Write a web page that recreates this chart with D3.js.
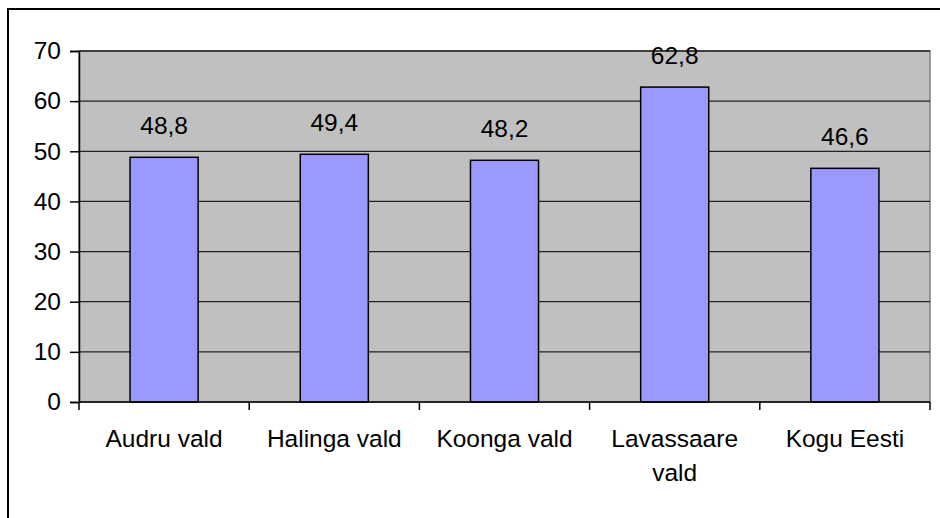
<!DOCTYPE html>
<html>
<head>
<meta charset="utf-8">
<script src="https://cdn.jsdelivr.net/npm/d3@7"></script>
<style>
  html, body { margin: 0; padding: 0; background: #fff; }
  svg { display: block; }
  text { font-family: "Liberation Sans", Arial, sans-serif; fill: #000; }
</style>
</head>
<body>
<svg id="chart" width="940" height="518"></svg>
<script>
const categories = [["Audru vald"], ["Halinga vald"], ["Koonga vald"], ["Lavassaare", "vald"], ["Kogu Eesti"]];
const values = [48.8, 49.4, 48.2, 62.8, 46.6];
const valueLabels = ["48,8", "49,4", "48,2", "62,8", "46,6"];
const yTicks = [0, 10, 20, 30, 40, 50, 60, 70];

const svg = d3.select("#chart");
const plot = { left: 79, right: 930, top: 51, bottom: 402 };
const FS = 24.5;

// outer border (only top/left visible)
svg.append("rect")
  .attr("x", 8).attr("y", 9).attr("width", 1200).attr("height", 1200)
  .attr("fill", "#fff").attr("stroke", "#000").attr("stroke-width", 2);

const keys = categories.map((c, i) => i);
const x = d3.scaleBand().domain(keys).range([plot.left, plot.right]).padding(0);
const y = d3.scaleLinear().domain([0, 70]).range([plot.bottom, plot.top]);

// plot area
svg.append("rect")
  .attr("x", plot.left).attr("y", plot.top)
  .attr("width", plot.right - plot.left).attr("height", plot.bottom - plot.top)
  .attr("fill", "#C0C0C0").attr("stroke", "#808080").attr("stroke-width", 1.5);

// gridlines
svg.append("g").selectAll("line").data(yTicks.filter(t => t > 0)).join("line")
  .attr("x1", plot.left).attr("x2", plot.right)
  .attr("y1", d => y(d)).attr("y2", d => y(d))
  .attr("stroke", "#222").attr("stroke-width", 1.3);

// bars
const barW = x.bandwidth() * 0.4;
svg.append("g").selectAll("rect").data(values).join("rect")
  .attr("x", (d, i) => x(i) + x.bandwidth() / 2 - barW / 2)
  .attr("y", d => y(d))
  .attr("width", barW)
  .attr("height", d => y(0) - y(d))
  .attr("fill", "#9999FF").attr("stroke", "#000").attr("stroke-width", 1.5);

// value labels
svg.append("g").selectAll("text").data(values).join("text")
  .attr("x", (d, i) => x(i) + x.bandwidth() / 2)
  .attr("y", d => y(d) - 23)
  .attr("text-anchor", "middle")
  .attr("font-size", FS)
  .text((d, i) => valueLabels[i]);

// y axis
const yAxis = d3.axisLeft(y).tickValues(yTicks).tickSize(9).tickPadding(9).tickFormat(d3.format("d"));
const gy = svg.append("g").attr("transform", `translate(${plot.left},0)`).call(yAxis);
gy.select(".domain").attr("stroke", "#000").attr("stroke-width", 1.5);
gy.selectAll(".tick line").attr("stroke", "#000").attr("stroke-width", 1.5);
gy.selectAll(".tick text").attr("font-size", FS).attr("font-family", "Liberation Sans, Arial, sans-serif").attr("fill", "#000");

// x axis baseline + boundary ticks
svg.append("line")
  .attr("x1", plot.left).attr("x2", plot.right)
  .attr("y1", y(0)).attr("y2", y(0))
  .attr("stroke", "#000").attr("stroke-width", 1.5);
const bounds = keys.map(k => x(k)).concat([x(keys[keys.length - 1]) + x.bandwidth()]);
svg.append("g").selectAll("line").data(bounds).join("line")
  .attr("x1", d => d).attr("x2", d => d)
  .attr("y1", y(0)).attr("y2", y(0) + 8)
  .attr("stroke", "#000").attr("stroke-width", 1.5);

// category labels
const cl = svg.append("g").selectAll("text").data(categories).join("text")
  .attr("x", (d, i) => x(i) + x.bandwidth() / 2)
  .attr("y", 447)
  .attr("text-anchor", "middle")
  .attr("font-size", FS);
cl.selectAll("tspan").data(d => d).join("tspan")
  .attr("x", function () { return this.parentNode.getAttribute("x"); })
  .attr("dy", (d, j) => j === 0 ? 0 : 34)
  .text(d => d);
</script>
</body>
</html>
